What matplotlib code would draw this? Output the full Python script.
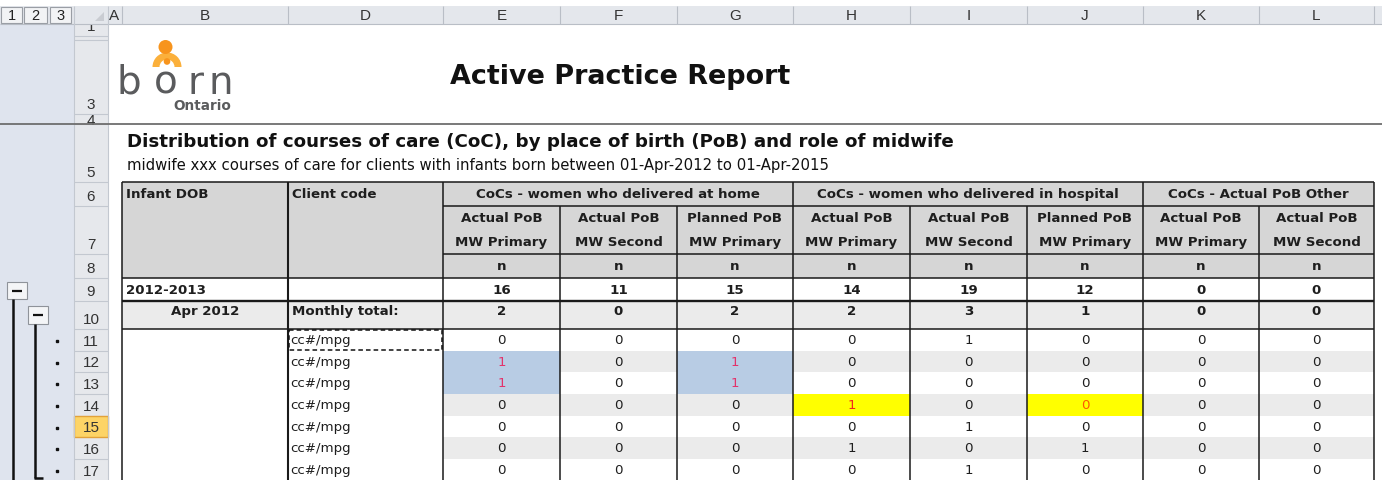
import matplotlib
matplotlib.use("Agg")
import matplotlib.pyplot as plt
from matplotlib.patches import Rectangle, Circle, Wedge

# -------------------- data --------------------
col_letters = ["A", "B", "D", "E", "F", "G", "H", "I", "J", "K", "L"]
row_numbers = [1, 2, 3, 4, 5, 6, 7, 8, 9, 10, 11, 12, 13, 14, 15, 16, 17]
active_row = 15

report_title = "Active Practice Report"
table_title = "Distribution of courses of care (CoC), by place of birth (PoB) and role of midwife"
table_note = "midwife xxx courses of care for clients with infants born between 01-Apr-2012 to 01-Apr-2015"

dob_header = "Infant DOB"
client_header = "Client code"
group_labels = ["CoCs - women who delivered at home",
                "CoCs - women who delivered in hospital",
                "CoCs - Actual PoB Other"]
group_sizes = [3, 3, 2]
sub_line1 = ["Actual PoB", "Actual PoB", "Planned PoB", "Actual PoB",
             "Actual PoB", "Planned PoB", "Actual PoB", "Actual PoB"]
sub_line2 = ["MW Primary", "MW Second", "MW Primary", "MW Primary",
             "MW Second", "MW Primary", "MW Primary", "MW Second"]
unit_label = "n"

year_label = "2012-2013"
year_totals = [16, 11, 15, 14, 19, 12, 0, 0]
month_label = "Apr 2012"
month_text = "Monthly total:"
month_totals = [2, 0, 2, 2, 3, 1, 0, 0]

client_codes = ["cc#/mpg"] * 7
counts = [
    [0, 0, 0, 0, 1, 0, 0, 0],
    [1, 0, 1, 0, 0, 0, 0, 0],
    [1, 0, 1, 0, 0, 0, 0, 0],
    [0, 0, 0, 1, 0, 0, 0, 0],
    [0, 0, 0, 0, 1, 0, 0, 0],
    [0, 0, 0, 1, 0, 1, 0, 0],
    [0, 0, 0, 0, 1, 0, 0, 0],
]
# (data row index, value column index) of the conditional formats
blue_cells = [(1, 0), (2, 0), (1, 2), (2, 2)]
yellow_cells = [(3, 3), (3, 5)]

# -------------------- layout (pixels) --------------------
W, H = 1382, 481
col_edges = [108, 122, 288, 443, 560, 677, 793, 910, 1027, 1143, 1259, 1374]
row_edges = [25, 37, 41, 115, 125, 183, 207, 255, 279, 302, 330,
             352, 373, 395, 417, 438, 460, 482]
tab_l, tab_r = col_edges[1], col_edges[-1]
val_edges = col_edges[3:]

GUTTER = "#dfe4ee"
HEAD = "#e4e7ec"
HEAD_LINE = "#b9bec6"
GRID = "#1a1a1a"
HDR_FILL = "#d6d6d6"
BAND = "#ebebeb"
BLUE = "#b8cce4"
YELLOW = "#ffff00"
LOGO_GRAY = "#5a5b5d"

fig = plt.figure(figsize=(W / 100, H / 100), dpi=100)
ax = fig.add_axes([0, 0, 1, 1])
ax.set_xlim(0, W)
ax.set_ylim(H, 0)
ax.axis("off")
renderer = fig.canvas.get_renderer()

TF = "DejaVu Sans"
XF = "Liberation Sans"


def rect(x0, y0, x1, y1, **kw):
    ax.add_patch(Rectangle((x0, y0), x1 - x0, y1 - y0, **kw))


def hline(y, x0, x1, lw=1.1, color=GRID, **kw):
    ax.plot([x0, x1], [y, y], color=color, lw=lw, solid_capstyle="butt", **kw)


def vline(x, y0, y1, lw=1.1, color=GRID, **kw):
    ax.plot([x, x], [y0, y1], color=color, lw=lw, solid_capstyle="butt", **kw)


def fit(x, y, s, width, **kw):
    t = ax.text(x, y, s, fontsize=10, **kw)
    w = t.get_window_extent(renderer).width
    t.set_fontsize(10 * width / w)
    return t


def cell(x, y, s, size=9.6, weight="normal", color="#1e1e1e", ha="center"):
    ax.text(x, y, s, fontsize=size, fontweight=weight, color=color,
            ha=ha, va="center", family=TF)


# -------------------- excel chrome --------------------
# column header bar sits on top so squeezed row numbers get cut by it
rect(0, 7, W, 25, fc=HEAD, ec="none", zorder=5)
hline(25, 0, W, lw=0.8, color=HEAD_LINE, zorder=5)
rect(0, 25, 74, H, fc=GUTTER, ec="none")
rect(74, 25, 108, H, fc="#e6e8ec", ec="none")
vline(74, 7, H, lw=0.8, color="#c3c8d0", zorder=5)
vline(108, 7, H, lw=0.8, color="#c3c8d0", zorder=5)

# outline level buttons
for i, (x0, x1) in enumerate([(1, 22), (24, 47), (50, 71)]):
    rect(x0, 8, x1, 24, fc="#f2f3f5", ec="#9a9ea5", lw=0.8, zorder=6)
    ax.text((x0 + x1) / 2, 16.5, str(i + 1), fontsize=10.5, family=XF,
            ha="center", va="center", color="#222222", zorder=7)
# select-all corner
ax.add_patch(plt.Polygon([[104, 13], [104, 22], [95, 22]], closed=True,
                         fc="#c9ccd2", ec="none", zorder=6))

# column letters
for i, letter in enumerate(col_letters):
    x0, x1 = col_edges[i], col_edges[i + 1]
    vline(x1, 7, 25, lw=0.8, color=HEAD_LINE, zorder=6)
    xc = x0 + 6 if letter == "A" else (x0 + x1) / 2
    ax.text(xc, 16.5, letter, fontsize=11, family=XF, ha="center",
            va="center", color="#333333", zorder=7)

# row numbers
for i, r in enumerate(row_numbers):
    y0, y1 = row_edges[i], row_edges[i + 1]
    if r == active_row:
        rect(74.5, y0, 108, y1, fc="#fdd466", ec="#e2a23a", lw=1.0, zorder=3)
    else:
        hline(y1, 74, 108, lw=0.8, color="#c3c8d0")
    if r == 2:
        continue
    if y1 - y0 < 14:
        yc = (y0 + y1) / 2 + (-4 if r == 1 else 1)
        ax.text(91, yc, str(r), fontsize=11, family=XF, ha="center",
                va="center", color="#333333", zorder=4)
    else:
        ax.text(91, y1 - 3, str(r), fontsize=11, family=XF, ha="center",
                va="bottom", color="#333333", zorder=4)

# freeze pane line
hline(125, 0, W, lw=1.3, color="#6e6e6e", zorder=5)

# outline group symbols
rect(7, 283, 27, 300, fc="#f4f5f7", ec="#8f939a", lw=0.8)
hline(291.5, 12, 22, lw=1.6, color="#111111")
vline(13.5, 300, H, lw=1.8, color="#111111")
rect(28, 307, 48, 325, fc="#f4f5f7", ec="#8f939a", lw=0.8)
hline(316, 33, 43, lw=1.6, color="#111111")
vline(35, 325, 479, lw=1.8, color="#111111")
hline(479, 34, 43, lw=1.8, color="#111111")
for k in range(len(client_codes)):
    y0, y1 = row_edges[10 + k], row_edges[11 + k]
    ax.plot(57.5, (y0 + y1) / 2 + 1, marker="s", ms=1.6, color="#111111")

# -------------------- logo --------------------
ax.add_patch(Wedge((167, 68), 14.5, 180, 360, width=7, fc="#fbb03b", ec="none"))
ax.add_patch(Circle((165.5, 48), 7, fc="#f7941d", ec="none"))
ax.add_patch(Circle((167, 62.5), 3.3, fc="#f7941d", ec="none"))
for ch, xc in zip("born", [129, 166, 196, 221]):
    ax.text(xc, 94, ch, fontsize=28, family=TF, color=LOGO_GRAY,
            ha="center", va="baseline")
fit(173, 110, "Ontario", 58, family=TF, fontweight="bold", color=LOGO_GRAY,
    ha="left", va="baseline")

# -------------------- titles --------------------
fit(450, 77, report_title, 342, family=TF, fontweight="bold", color="#111111",
    ha="left", va="center")
fit(127, 142, table_title, 828, family=TF, fontweight="bold", color="#111111",
    ha="left", va="center")
fit(127, 166, table_note, 698, family=TF, color="#111111",
    ha="left", va="center")

# -------------------- table fills --------------------
rect(tab_l, row_edges[5], tab_r, row_edges[8], fc=HDR_FILL, ec="none")
rect(tab_l, row_edges[9], tab_r, row_edges[10], fc=BAND, ec="none")
for k in range(len(counts)):
    y0, y1 = row_edges[10 + k], row_edges[11 + k]
    if k % 2 == 1:
        rect(val_edges[0], y0, tab_r, y1, fc=BAND, ec="none")
for (k, j) in blue_cells:
    rect(val_edges[j], row_edges[10 + k], val_edges[j + 1], row_edges[11 + k],
         fc=BLUE, ec="none")
for (k, j) in yellow_cells:
    rect(val_edges[j], row_edges[10 + k], val_edges[j + 1], row_edges[11 + k],
         fc=YELLOW, ec="none")

# -------------------- table borders --------------------
top, hdr_mid1, hdr_mid2, hdr_bot = row_edges[5], row_edges[6], row_edges[7], row_edges[8]
hline(top, tab_l, tab_r)
hline(hdr_mid1, val_edges[0], tab_r)
hline(hdr_mid2, val_edges[0], tab_r)
hline(hdr_bot, tab_l, tab_r)
hline(row_edges[9], tab_l, tab_r, lw=1.7)
hline(row_edges[10], tab_l, tab_r)
for x in col_edges[1:4]:
    vline(x, top, H, lw=1.5 if x == col_edges[2] else 1.1)
vline(tab_r, top, H)
bounds = [0]
for g in group_sizes:
    bounds.append(bounds[-1] + g)
for j in range(1, len(val_edges) - 1):
    y_start = top if j in bounds else hdr_mid1
    vline(val_edges[j], y_start, H)

# marquee around first client code
ax.add_patch(Rectangle((col_edges[2] + 1, row_edges[10] + 1),
                       col_edges[3] - col_edges[2] - 2, row_edges[11] - row_edges[10] - 2,
                       fill=False, ec="#111111", lw=1.1, ls=(0, (3, 2)), zorder=5))

# -------------------- table text --------------------
vc = [(val_edges[j] + val_edges[j + 1]) / 2 for j in range(len(val_edges) - 1)]
y6 = (row_edges[5] + row_edges[6]) / 2
cell(col_edges[1] + 4, y6, dob_header, weight="bold", ha="left")
cell(col_edges[2] + 4, y6, client_header, weight="bold", ha="left")
for g, label in enumerate(group_labels):
    xc = (val_edges[bounds[g]] + val_edges[bounds[g + 1]]) / 2
    cell(xc, y6, label, weight="bold")
for j in range(len(vc)):
    cell(vc[j], 219, sub_line1[j], weight="bold")
    cell(vc[j], 243, sub_line2[j], weight="bold")
    cell(vc[j], (row_edges[7] + row_edges[8]) / 2, unit_label, weight="bold")

y9 = (row_edges[8] + row_edges[9]) / 2
cell(col_edges[1] + 4, y9, year_label, weight="bold", ha="left")
for j, v in enumerate(year_totals):
    cell(vc[j], y9, str(v), weight="bold")

y10 = row_edges[9] + 10
cell((col_edges[1] + col_edges[2]) / 2, y10, month_label, weight="bold")
cell(col_edges[2] + 4, y10, month_text, weight="bold", ha="left")
for j, v in enumerate(month_totals):
    cell(vc[j], y10, str(v), weight="bold")

hi_color = {(1, 0): "#e2336b", (2, 0): "#e2336b", (1, 2): "#e2336b",
            (2, 2): "#e2336b", (3, 3): "#f0281e", (3, 5): "#ff5a00"}
for k, row in enumerate(counts):
    yc = (row_edges[10 + k] + row_edges[11 + k]) / 2
    cell(col_edges[2] + 2, yc, client_codes[k], ha="left")
    for j, v in enumerate(row):
        cell(vc[j], yc, str(v), color=hi_color.get((k, j), "#1e1e1e"))

fig.savefig("out.png", dpi=100)
